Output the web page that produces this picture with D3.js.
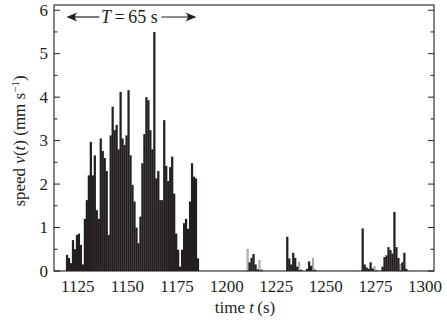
<!DOCTYPE html>
<html>
<head>
<meta charset="utf-8">
<script src="https://cdn.jsdelivr.net/npm/d3@7"></script>
</head>
<body style="margin:0">
<script>
var w = 447;
var h = 320;

// main burst, one bar per second starting at burstStart
var burstStart = 1119;
var burstSpeed = [0.37, 0.3, 0.18, 0.71, 0.5, 0.83, 0.86, 0.6, 0.15, 1.2,
  1.63, 2.2, 2.97, 2.2, 2.66, 1.4, 1.2, 3.05, 2.76, 2.6,
  2.3, 0.83, 3.12, 3.78, 3.24, 3.36, 2.8, 4.12, 3.05, 2.9,
  3.12, 4.16, 2.66, 1.98, 1.6, 1.0, 0.64, 1.25, 2.48, 3.15,
  4.0, 3.93, 3.24, 2.8, 5.5, 2.13, 2.3, 1.63, 1.63, 3.47,
  2.42, 2.07, 2.39, 2.63, 1.78, 0.86, 0.49, 0.1, 0.49, 1.1,
  1.2, 0.97, 1.6, 2.48, 2.17, 2.13, 0.29];

// later, sparse dark bars
var sparseTime = [1211, 1212, 1213, 1214, 1215, 1217,
  1230, 1231, 1232, 1233, 1234, 1235, 1237, 1240, 1241, 1242, 1244,
  1268, 1269, 1270, 1271, 1272, 1273, 1275,
  1278, 1279, 1280, 1281, 1282, 1283, 1284, 1285, 1286, 1288, 1289, 1290];
var sparseSpeed = [0.2, 0.3, 0.39, 0.15, 0.04, 0.03,
  0.79, 0.29, 0.15, 0.42, 0.3, 0.1, 0.03, 0.05, 0.22, 0.12, 0.03,
  0.98, 0.15, 0.08, 0.05, 0.2, 0.06, 0.02,
  0.1, 0.32, 0.36, 0.55, 0.48, 0.4, 1.36, 0.55, 0.3, 0.2, 0.42, 0.05];

// light grey bars
var greyTime = [1210, 1216, 1236, 1243, 1274, 1287];
var greySpeed = [0.5, 0.24, 0.2, 0.29, 0.1, 0.15];

var yTicks = [0, 1, 2, 3, 4, 5, 6];
var xTicks = [1125, 1150, 1175, 1200, 1225, 1250, 1275, 1300];

var period = 65; // T annotation

var dark = "#231f20";
var serif = "'Liberation Serif'";

var x = d3.scaleLinear().domain([1113, 1304.5]).range([54, 434]);
var y = d3.scaleLinear().domain([0, 6.12]).range([271, 5]);

var svg = d3.select("body")
  .append("svg")
  .attr("width", w)
  .attr("height", h);

var step = x(1) - x(0);

var burst = burstSpeed.map(function(v, i) { return { t: burstStart + i, v: v }; });
var sparse = sparseTime.map(function(t, i) { return { t: t, v: sparseSpeed[i] }; });
var grey = greyTime.map(function(t, i) { return { t: t, v: greySpeed[i] }; });

//grey bars
svg.selectAll("rect.grey")
  .data(grey)
  .enter()
  .append("rect")
  .attr("class", "grey")
  .attr("x", function(d) { return x(d.t) + 0.5; })
  .attr("y", function(d) { return y(d.v); })
  .attr("width", step - 0.8)
  .attr("height", function(d) { return y(0) - y(d.v); })
  .attr("fill", "#d6d6d6")
  .attr("stroke", "#8c8c8c")
  .attr("stroke-width", 0.7);

//dark bars
svg.selectAll("rect.dark")
  .data(burst.concat(sparse))
  .enter()
  .append("rect")
  .attr("class", "dark")
  .attr("x", function(d) { return x(d.t); })
  .attr("y", function(d) { return y(d.v); })
  .attr("width", step + 0.25)
  .attr("height", function(d) { return y(0) - y(d.v); })
  .attr("fill", dark);

//frame
svg.append("rect")
  .attr("x", x.range()[0])
  .attr("y", y.range()[1])
  .attr("width", x.range()[1] - x.range()[0])
  .attr("height", y.range()[0] - y.range()[1])
  .attr("fill", "none")
  .attr("stroke", dark)
  .attr("stroke-width", 1.1);

//y ticks inside, both sides
var minor = d3.range(0.5, 6, 1);
[x.range()[0], x.range()[1]].forEach(function(edge, side) {
  var dir = side === 0 ? 1 : -1;
  svg.selectAll(null)
    .data(yTicks.concat(minor))
    .enter()
    .append("line")
    .attr("x1", edge)
    .attr("x2", function(d) { return edge + dir * (d % 1 === 0 ? 6 : 3.5); })
    .attr("y1", function(d) { return y(d); })
    .attr("y2", function(d) { return y(d); })
    .attr("stroke", dark)
    .attr("stroke-width", 1);
});

svg.selectAll("text.ylab")
  .data(yTicks)
  .enter()
  .append("text")
  .attr("class", "ylab")
  .attr("x", 48)
  .attr("y", function(d) { return y(d) + 5.5; })
  .attr("text-anchor", "end")
  .style("fill", dark)
  .style("font-family", serif)
  .style("font-size", "17px")
  .text(function(d) { return d; });

svg.selectAll("text.xlab")
  .data(xTicks)
  .enter()
  .append("text")
  .attr("class", "xlab")
  .attr("x", function(d) { return x(d); })
  .attr("y", 292)
  .attr("text-anchor", "middle")
  .style("fill", dark)
  .style("font-family", serif)
  .style("font-size", "17px")
  .text(function(d) { return d; });

//axis titles
var xt = svg.append("text")
  .attr("x", 245)
  .attr("y", 313)
  .attr("text-anchor", "middle")
  .style("fill", dark)
  .style("font-family", serif)
  .style("font-size", "17px");
xt.append("tspan").text("time ");
xt.append("tspan").style("font-style", "italic").text("t");
xt.append("tspan").text("\u2009(s)");

var yt = svg.append("text")
  .attr("transform", "translate(25,141) rotate(-90)")
  .attr("text-anchor", "middle")
  .style("fill", dark)
  .style("font-family", serif)
  .style("font-size", "17px");
yt.append("tspan").text("speed ");
yt.append("tspan").style("font-style", "italic").text("v");
yt.append("tspan").text("(");
yt.append("tspan").style("font-style", "italic").text("t");
yt.append("tspan").text(") (mm s");
yt.append("tspan").attr("dy", -6).style("font-size", "11px").text("\u22121");
yt.append("tspan").attr("dy", 6).text(")");

//T annotation
var a0 = x(burstStart) + 0.5;
var a1 = x(burstStart + period) + 1.5;
var ay = 17;
var tx = (a0 + a1) / 2 - 2;

svg.append("line")
  .attr("x1", a0 + 3).attr("x2", tx - 30)
  .attr("y1", ay).attr("y2", ay)
  .attr("stroke", dark).attr("stroke-width", 1.2);
svg.append("line")
  .attr("x1", tx + 32).attr("x2", a1 - 3)
  .attr("y1", ay).attr("y2", ay)
  .attr("stroke", dark).attr("stroke-width", 1.2);

svg.append("path")
  .attr("d", "M" + a0 + "," + ay + " L" + (a0 + 11) + "," + (ay - 4.5) +
    " Q" + (a0 + 6) + "," + ay + " " + (a0 + 11) + "," + (ay + 4.5) + " Z")
  .attr("fill", dark);
svg.append("path")
  .attr("d", "M" + a1 + "," + ay + " L" + (a1 - 11) + "," + (ay - 4.5) +
    " Q" + (a1 - 6) + "," + ay + " " + (a1 - 11) + "," + (ay + 4.5) + " Z")
  .attr("fill", dark);

var tt = svg.append("text")
  .attr("x", tx)
  .attr("y", ay + 6)
  .attr("text-anchor", "middle")
  .style("fill", dark)
  .style("font-family", serif)
  .style("font-size", "18px");
tt.append("tspan").style("font-style", "italic").text("T");
tt.append("tspan").text("\u2009=\u200965 s");
</script>
</body>
</html>
